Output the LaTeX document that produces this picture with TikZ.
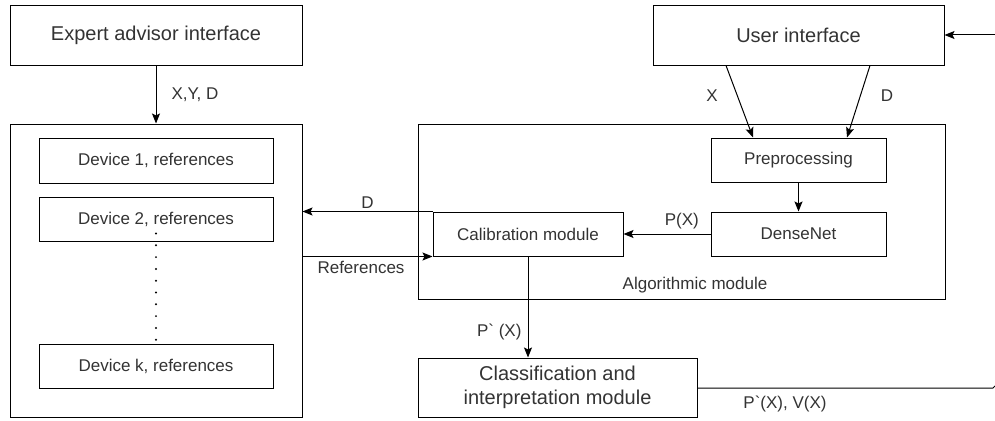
\documentclass[tikz,border=0pt]{standalone}
\usepackage{fontspec}
\setmainfont{Liberation Sans}
\usetikzlibrary{arrows.meta,positioning}

\begin{document}
\begin{tikzpicture}[
  x=1pt, y=-1pt,
  box/.style={draw, line width=1pt, align=center, inner sep=0pt, text=black!80, font=\fontsize{20}{24}\selectfont},
  sbox/.style={draw, line width=1pt, align=center, inner sep=0pt, text=black!80, font=\fontsize{17}{20}\selectfont},
  frame/.style={draw, line width=1pt, inner sep=0pt},
  lbl/.style={text=black!80, inner sep=1pt, font=\fontsize{17}{20}\selectfont},
  arr/.style={-{Stealth[length=10pt,width=8pt,inset=2pt]}, line width=1pt},
]
  \useasboundingbox (0,0) rectangle (995,420);

  % Interfaces
  \node[box, minimum width=292, minimum height=59] (expert) at (156,35.5) {Expert advisor interface};
  \node[box, minimum width=291, minimum height=59] (user) at (798.5,35.5) {User interface};

  % Reference storage
  \node[frame, minimum width=292, minimum height=293] (store) at (156,270.5) {};
  \node[sbox, minimum width=234, minimum height=45] (dev1) at (156,160.5) {Device 1, references};
  \node[sbox, minimum width=234, minimum height=44] (dev2) at (156,219) {Device 2, references};
  \node[sbox, minimum width=234, minimum height=44] (devk) at (156,366) {Device k, references};
  \draw[line width=2.2pt, line cap=round, dash pattern=on 0pt off 11.8pt] ([yshift=8]dev2.south) -- (devk.north);

  % Algorithmic module
  \node[frame, minimum width=527, minimum height=175] (algo) at (681.5,211.5) {};
  \node[lbl] (algolbl) at (695,285) {Algorithmic module};
  \node[sbox, minimum width=175, minimum height=44] (prep) at (798.5,160) {Preprocessing};
  \node[sbox, minimum width=175, minimum height=44] (dense) at (798.5,234) {DenseNet};
  \node[sbox, minimum width=190, minimum height=44] (calib) at (528,234) {Calibration module};

  % Output
  \node[box, minimum width=279, minimum height=59] (classif) at (557.5,387.5) {Classification and\\interpretation module};
  \coordinate (uin) at (995,35);
  \coordinate (cout) at (993,388);

  % Connectors
  \draw[arr] (expert) -- (store) node[lbl, midway, right=14pt] {X,Y, D};
  \draw[arr] (uin) -- (user.east |- uin);
  \draw[arr] ([xshift=-72.5]user.south) -- ([xshift=-45.5]prep.north);
  \draw[arr] ([xshift=71.5]user.south) -- ([xshift=48.5]prep.north);
  \node[lbl] (xlbl) at (712,96) {X};
  \node[lbl] (dlbl) at (887,96) {D};
  \draw[arr] (prep) -- (dense);
  \draw[arr] (dense) -- (calib) node[lbl, pos=0.33, above=3pt] {P(X)};
  \draw[arr] (calib.north west) -- (store.east |- calib.north west) node[lbl, midway, above=2pt] {D};
  \draw[arr] (store.east |- calib.south west) -- (calib.south west) node[lbl, pos=0.45, below=3pt] {References};
  \draw[arr] (calib) -- (calib |- classif.north) node[lbl, pos=0.75, left=5pt] {P\textasciigrave\ (X)};
  \draw[line width=1pt] (classif.east |- cout) -- (cout) -- ++(2,-2);
  \node[lbl] (outlbl) at (785,404) {P\textasciigrave(X), V(X)};
\end{tikzpicture}
\end{document}
